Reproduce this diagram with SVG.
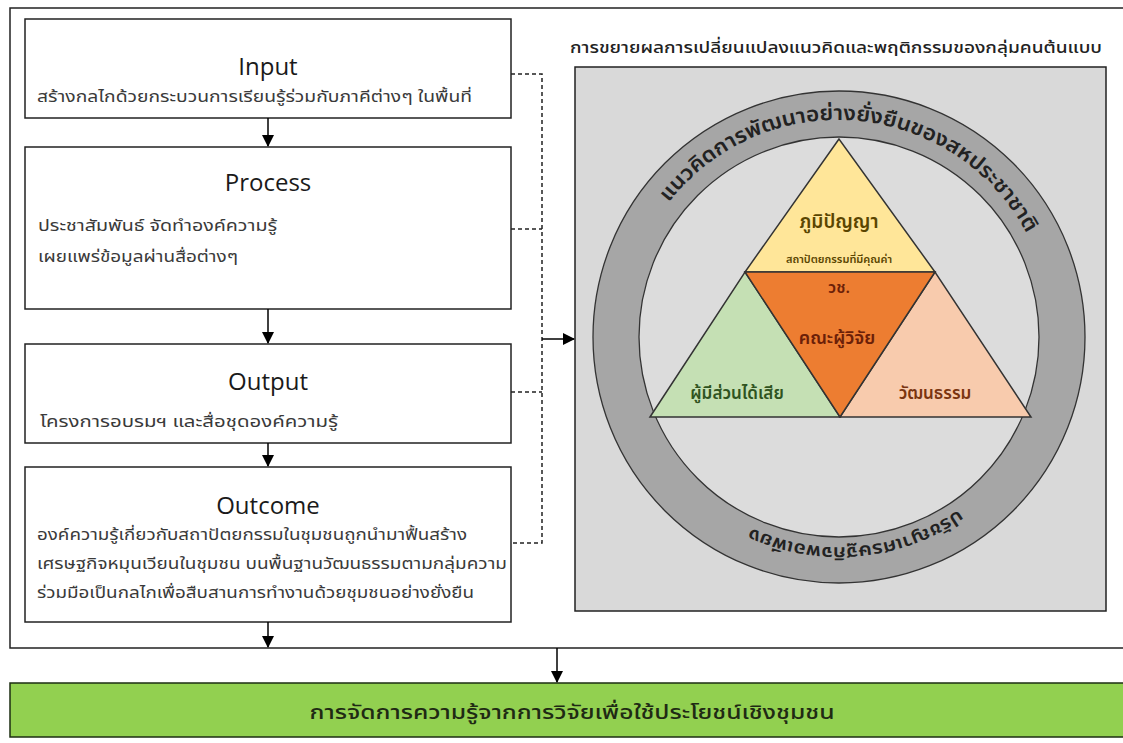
<svg xmlns="http://www.w3.org/2000/svg" xmlns:xlink="http://www.w3.org/1999/xlink" width="1123" height="743" viewBox="0 0 1123 743">
  <defs>
    <marker id="arrow" markerWidth="12" markerHeight="12" refX="11" refY="6" orient="auto" markerUnits="userSpaceOnUse">
      <path d="M0,0 L12,6 L0,12 Z" fill="#000"/>
    </marker>
    <!-- text paths along the grey ring -->
    <path id="ringTop" d="M 662.5 211 A 214 214 0 0 1 1031.3 242.8" fill="none"/>
    <path id="ringBottom" d="M 974 498 A 210 210 0 0 1 734 519" fill="none"/>
    <style>
      .box { fill: #fff; stroke: #222; stroke-width: 1.5; }
      .head { font-family: 'Open Sans', 'Noto Sans', sans-serif; font-size: 24px; fill: #1a1a1a; text-anchor: middle; }
      .th { font-family: 'Noto Sans Thai', 'Noto Sans', 'DejaVu Sans', sans-serif; font-size: 15px; fill: #3a3a3a; }
      .flow { stroke: #000; stroke-width: 1.5; fill: none; }
      .dash { stroke: #222; stroke-width: 1.5; stroke-dasharray: 4 3; fill: none; }
      .tri { stroke: #333; stroke-width: 1.5; }
      .tlabel { font-family: 'Noto Sans Thai', 'Noto Sans', 'DejaVu Sans', sans-serif; font-weight: 600; text-anchor: middle; }
    </style>
  </defs>

  <rect width="1123" height="743" fill="#fff"/>

  <!-- outer frame, open to the right -->
  <path d="M 1125 8 H 10 V 648 H 1125" fill="none" stroke="#222" stroke-width="1.5"/>

  <g id="input">
    <rect class="box" x="25" y="19" width="486" height="99"/>
    <text class="head" x="268" y="75">Input</text>
    <text class="th" x="37" y="102" textLength="435" lengthAdjust="spacingAndGlyphs">สร้างกลไกด้วยกระบวนการเรียนรู้ร่วมกับภาคีต่างๆ ในพื้นที่</text>
  </g>

  <g id="process">
    <rect class="box" x="25" y="147" width="486" height="162"/>
    <text class="head" x="268" y="191">Process</text>
    <text class="th" x="38" y="231" textLength="239" lengthAdjust="spacingAndGlyphs">ประชาสัมพันธ์ จัดทำองค์ความรู้</text>
    <text class="th" x="38" y="262" textLength="200" lengthAdjust="spacingAndGlyphs">เผยแพร่ข้อมูลผ่านสื่อต่างๆ</text>
  </g>

  <g id="output">
    <rect class="box" x="25" y="344" width="486" height="99"/>
    <text class="head" x="268" y="390">Output</text>
    <text class="th" x="40" y="427" textLength="298" lengthAdjust="spacingAndGlyphs">โครงการอบรมฯ  และสื่อชุดองค์ความรู้</text>
  </g>

  <g id="outcome">
    <rect class="box" x="25" y="467" width="486" height="155"/>
    <text class="head" x="268" y="514">Outcome</text>
    <text class="th" x="37" y="540" textLength="430" lengthAdjust="spacingAndGlyphs">องค์ความรู้เกี่ยวกับสถาปัตยกรรมในชุมชนถูกนำมาฟื้นสร้าง</text>
    <text class="th" x="37" y="569" textLength="470" lengthAdjust="spacingAndGlyphs">เศรษฐกิจหมุนเวียนในชุมชน บนพื้นฐานวัฒนธรรมตามกลุ่มความ</text>
    <text class="th" x="37" y="598" textLength="437" lengthAdjust="spacingAndGlyphs">ร่วมมือเป็นกลไกเพื่อสืบสานการทำงานด้วยชุมชนอย่างยั่งยืน</text>
  </g>

  <g id="model">
    <text x="836" y="53" font-family="'Noto Sans Thai','Noto Sans','DejaVu Sans',sans-serif" font-size="16" font-weight="500" fill="#222" text-anchor="middle" textLength="532" lengthAdjust="spacingAndGlyphs">การขยายผลการเปลี่ยนแปลงแนวคิดและพฤติกรรมของกลุ่มคนต้นแบบ</text>
    <rect x="575" y="67" width="531" height="544" fill="#d9d9d9" stroke="#222" stroke-width="1.5"/>
    <!-- ring -->
    <circle cx="839" cy="337" r="246" fill="#a6a6a6" stroke="#333" stroke-width="1.3"/>
    <circle cx="839" cy="337" r="200" fill="#dcdcdc" stroke="#333" stroke-width="1.3"/>
    <text font-family="'Noto Sans Thai','Noto Sans','DejaVu Sans',sans-serif" font-size="21" font-weight="600" fill="#222">
      <textPath xlink:href="#ringTop" href="#ringTop" startOffset="50%" text-anchor="middle" textLength="426" lengthAdjust="spacingAndGlyphs">แนวคิดการพัฒนาอย่างยั่งยืนของสหประชาชาติ</textPath>
    </text>
    <text font-family="'Noto Sans Thai','Noto Sans','DejaVu Sans',sans-serif" font-size="18" font-weight="600" fill="#222">
      <textPath xlink:href="#ringBottom" href="#ringBottom" startOffset="50%" text-anchor="middle" textLength="218" lengthAdjust="spacingAndGlyphs">ปรัชญาเศรษฐกิจพอเพียง</textPath>
    </text>
  </g>

  <g id="wisdom">
    <polygon class="tri" points="839,139 745,272 935,272" fill="#ffe699"/>
    <text class="tlabel" x="839" y="228" font-size="19" fill="#5a4500">ภูมิปัญญา</text>
    <text class="tlabel" x="839" y="263" font-size="11" fill="#5a4500">สถาปัตยกรรมที่มีคุณค่า</text>
  </g>
  <g id="stakeholders">
    <polygon class="tri" points="650,417 745,272 840,417" fill="#c5e0b4"/>
    <text class="tlabel" x="737" y="399" font-size="17" fill="#2f5320">ผู้มีส่วนได้เสีย</text>
  </g>
  <g id="culture">
    <polygon class="tri" points="840,417 935,272 1031,417" fill="#f8cbad"/>
    <text class="tlabel" x="935" y="399" font-size="17" fill="#7a3410">วัฒนธรรม</text>
  </g>
  <g id="researchers">
    <polygon class="tri" points="745,272 935,272 840,417" fill="#ed7d31"/>
    <text class="tlabel" x="839" y="293" font-size="16" fill="#6b2008">วช.</text>
    <text class="tlabel" x="837" y="344" font-size="18" fill="#6b2008">คณะผู้วิจัย</text>
  </g>

  <g id="result">
    <rect x="10" y="683" width="1120" height="54" fill="#92d050" stroke="#1d2e12" stroke-width="1.5"/>
    <text x="572" y="719" font-family="'Noto Sans Thai','Noto Sans','DejaVu Sans',sans-serif" font-size="19" font-weight="500" fill="#1f2a14" text-anchor="middle" textLength="525" lengthAdjust="spacingAndGlyphs">การจัดการความรู้จากการวิจัยเพื่อใช้ประโยชน์เชิงชุมชน</text>
  </g>

  <g id="connectors">
    <line class="flow" x1="268" y1="118" x2="268" y2="146" marker-end="url(#arrow)"/>
    <line class="flow" x1="268" y1="309" x2="268" y2="343" marker-end="url(#arrow)"/>
    <line class="flow" x1="268" y1="443" x2="268" y2="466" marker-end="url(#arrow)"/>
    <line class="flow" x1="268" y1="622" x2="268" y2="647" marker-end="url(#arrow)"/>
    <line class="flow" x1="557" y1="648" x2="557" y2="682" marker-end="url(#arrow)"/>
    <path class="dash" d="M 511 74 H 542 V 543 H 511"/>
    <path class="dash" d="M 511 229 H 542"/>
    <path class="dash" d="M 511 392 H 542"/>
    <line class="flow" x1="542" y1="339" x2="574" y2="339" stroke-width="2" marker-end="url(#arrow)"/>
  </g>
</svg>
